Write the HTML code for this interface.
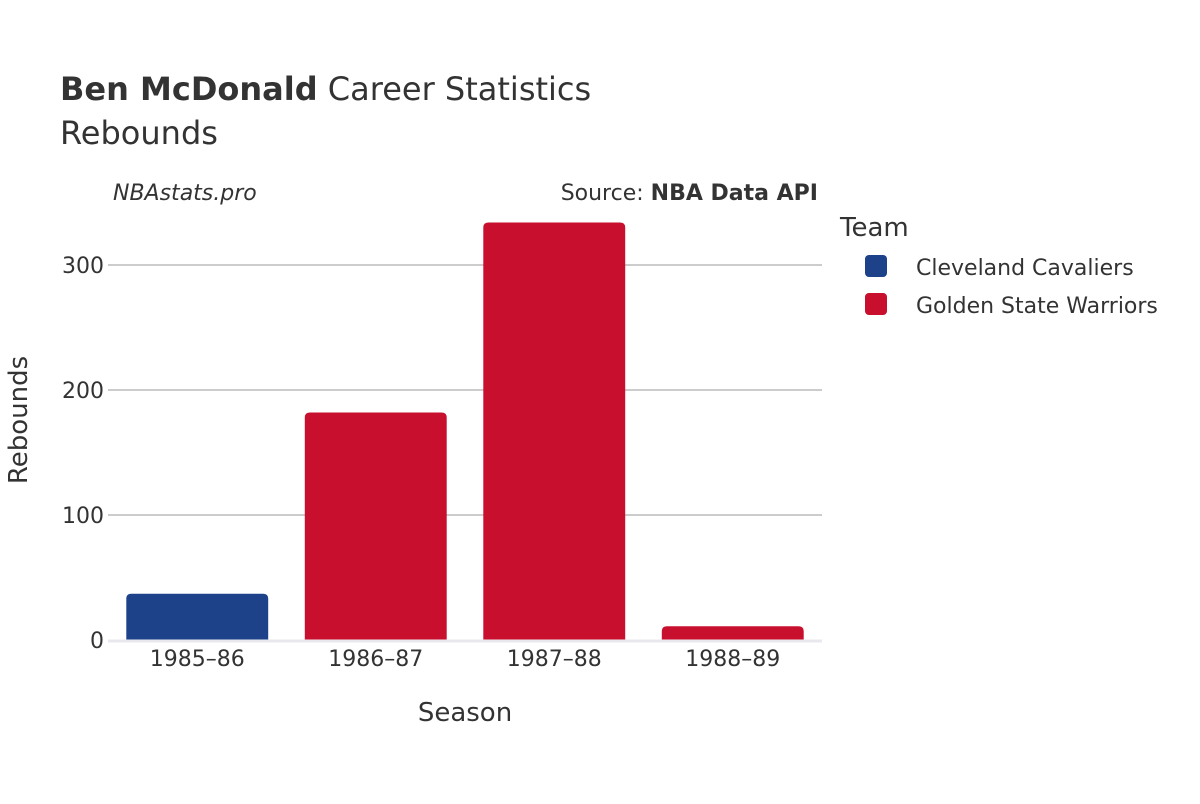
<!DOCTYPE html>
<html><head><meta charset="utf-8"><style>
body{margin:0;background:#fff;font-family:"DejaVu Sans","Liberation Sans",sans-serif;}
</style></head><body>
<svg width="1200" height="800" xmlns="http://www.w3.org/2000/svg" font-family="DejaVu Sans, Liberation Sans, sans-serif">
<text x="60" y="100" font-size="32" fill="#333"><tspan font-weight="bold">Ben McDonald</tspan> Career Statistics</text>
<text x="60" y="144" font-size="32" fill="#333">Rebounds</text>
<text x="113" y="200" font-size="22" font-style="italic" fill="#333">NBAstats.pro</text>
<text x="818" y="200" font-size="22" fill="#333" text-anchor="end">Source: <tspan font-weight="bold">NBA Data API</tspan></text>
<g id="grid"></g>
<g id="bars"></g>
<g id="xt"></g>
<text x="465" y="721" font-size="26" fill="#333" text-anchor="middle">Season</text>
<text transform="translate(27,420) rotate(-90)" font-size="26" fill="#333" text-anchor="middle">Rebounds</text>
<text x="840" y="236" font-size="26" fill="#333">Team</text>
<g><rect x="865" y="255" width="22" height="22" rx="4" fill="#1d428a"/><text x="916" y="275" font-size="22" fill="#333">Cleveland Cavaliers</text></g>
<g><rect x="865" y="293" width="22" height="22" rx="4" fill="#c8102e"/><text x="916" y="313" font-size="22" fill="#333">Golden State Warriors</text></g>
</svg>
<script>
const categories=["1985–86","1986–87","1987–88","1988–89"];
const values=[37,182,334,11];
const teams=["CLE","GSW","GSW","GSW"];
const yTicks=[0,100,200,300];
const colors={CLE:"#1d428a",GSW:"#c8102e"};
const NS="http://www.w3.org/2000/svg";
const x0=108,x1=822,yBase=640,pxPer=1.25;
const band=(x1-x0)/categories.length;
const y=v=>yBase-v*pxPer;
const xc=i=>x0+band*(i+0.5);
const grid=document.getElementById('grid');
yTicks.forEach(t=>{
  if(t>0){const l=document.createElementNS(NS,'line');
  l.setAttribute('x1',x0);l.setAttribute('x2',x1);l.setAttribute('y1',y(t));l.setAttribute('y2',y(t));
  l.setAttribute('stroke','#999');l.setAttribute('stroke-width','1');
  
  
  grid.appendChild(l);}
  const tx=document.createElementNS(NS,'text');
  tx.setAttribute('x',x0-4);tx.setAttribute('y',y(t)+8);tx.setAttribute('text-anchor','end');
  tx.setAttribute('font-size','22');tx.setAttribute('fill','#333');tx.textContent=t;
  
  
  grid.appendChild(tx);
});
const bars=document.getElementById('bars');
const bw=band*0.795,r=5;
values.forEach((v,i)=>{
  const xl=xc(i)-bw/2,top=y(v),h=yBase-top;const rr=Math.min(r,h);
  const p=document.createElementNS(NS,'path');
  p.setAttribute('d',`M${xl},${yBase}V${top+rr}Q${xl},${top} ${xl+rr},${top}H${xl+bw-rr}Q${xl+bw},${top} ${xl+bw},${top+rr}V${yBase}Z`);
  p.setAttribute('fill',colors[teams[i]]);
  
  
  bars.appendChild(p);
});
const zl=document.createElementNS(NS,'line');
zl.setAttribute('x1',x0);zl.setAttribute('x2',x1);zl.setAttribute('y1',yBase+1);zl.setAttribute('y2',yBase+1);
zl.setAttribute('stroke','#e8e8ee');zl.setAttribute('stroke-width','3');


bars.appendChild(zl);
const xt=document.getElementById('xt');
categories.forEach((c,i)=>{
  const t=document.createElementNS(NS,'text');
  t.setAttribute('x',xc(i));t.setAttribute('y',666);t.setAttribute('text-anchor','middle');
  t.setAttribute('font-size','22');t.setAttribute('fill','#333');t.textContent=c;
  
  
  xt.appendChild(t);
});
</script>
</body></html>
